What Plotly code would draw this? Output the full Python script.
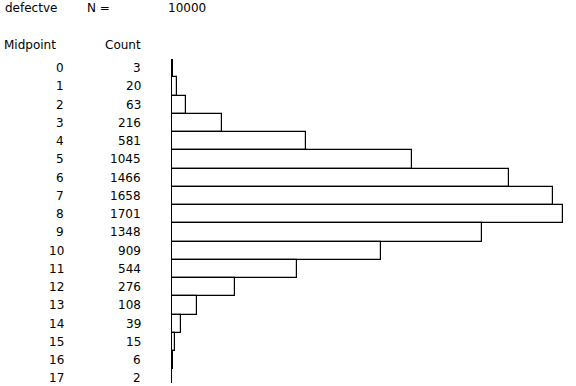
import plotly.graph_objects as go

variable = "defectve"
n_total = 10000
midpoints = list(range(18))
counts = [3, 20, 63, 216, 581, 1045, 1466, 1658, 1701, 1348, 909, 544, 276, 108, 39, 15, 6, 2]

W, H = 576, 386
L, R, T, B = 172, 4, 59, 3
pw = W - L - R
ph = H - T - B
FONT = dict(family="DejaVu Sans", size=12, color="black")

def px(x):
    return (x - L) / pw

def py(y):
    return (H - B - y) / ph

fig = go.Figure()
fig.add_trace(go.Bar(
    x=counts, y=midpoints, orientation="h", width=1.0,
    marker=dict(color="white", line=dict(color="black", width=1.2)),
    hoverinfo="skip",
))

ann = []
for m, c in zip(midpoints, counts):
    ann.append(dict(x=px(66), xref="paper", y=m, yref="y", text=str(m),
                    xanchor="right", yanchor="middle", showarrow=False, font=FONT))
    ann.append(dict(x=px(143), xref="paper", y=m, yref="y", text=str(c),
                    xanchor="right", yanchor="middle", showarrow=False, font=FONT))

ann += [
    dict(x=px(3), y=py(8), text=variable, xanchor="left"),
    dict(x=px(85), y=py(8), text="N =", xanchor="left"),
    dict(x=px(166), y=py(8), text=str(n_total), xanchor="left"),
    dict(x=px(2), y=py(45), text="Midpoint", xanchor="left"),
    dict(x=px(103), y=py(45), text="Count", xanchor="left"),
]
for a in ann[-5:]:
    a.update(xref="paper", yref="paper", yanchor="middle", showarrow=False, font=FONT)

fig.update_layout(
    width=W, height=H,
    margin=dict(l=L, r=R, t=T, b=B),
    paper_bgcolor="white", plot_bgcolor="white",
    showlegend=False, bargap=0,
    annotations=ann,
    xaxis=dict(range=[0, 1740], visible=False, fixedrange=True),
    yaxis=dict(range=[17.25, -0.5], showticklabels=False, ticks="",
               showgrid=False, zeroline=False, showline=True,
               linecolor="black", linewidth=1, mirror=False, fixedrange=True),
)

fig.write_html("out.html", config={"displayModeBar": False},
               post_script="document.body.style.margin='0';document.body.style.overflow='hidden';")
